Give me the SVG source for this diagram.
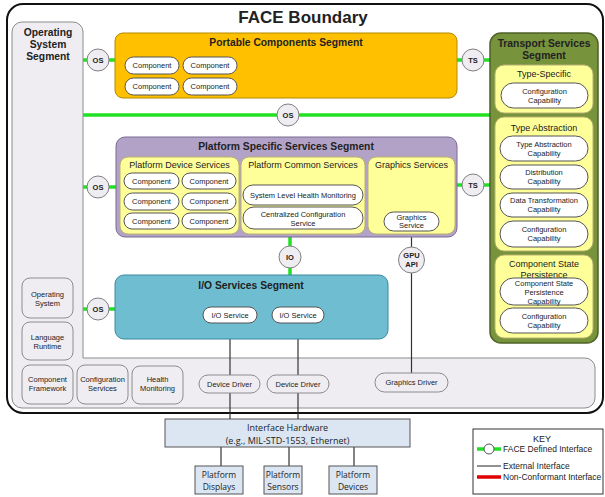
<svg xmlns="http://www.w3.org/2000/svg" width="605" height="497" viewBox="0 0 605 497">
<defs>
<style>
text{font-family:"Liberation Sans",Arial,sans-serif;fill:#222;text-anchor:middle}
.t{font-size:7.5px}
.sub{font-size:9px}
.seg{font-size:10.3px;font-weight:bold}
.pill{fill:#fff;stroke:#555;stroke-width:1}
.osb{fill:#efedf2;stroke:#8c8c8c;stroke-width:1}
.yel{fill:#ffff99;stroke:#b8b070;stroke-width:1}
.circ{fill:#efedf1;stroke:#808080;stroke-width:1}
.ct{font-size:7.5px;font-weight:bold}
.grn{stroke:#22e022;stroke-width:3.5;fill:none}
.ext{stroke:#333;stroke-width:1.2;fill:none}
.hw{fill:#dce6f2;stroke:#555;stroke-width:1}
.cal{font-family:"Open Sans","Liberation Sans",sans-serif}
</style>
</defs>
<rect x="0" y="0" width="605" height="497" fill="#fff"/>
<g id="face-boundary">
<rect x="7" y="4" width="596" height="409" rx="16" fill="#fff" stroke="#111" stroke-width="2"/>
<text x="303" y="23" style="font-size:17px;font-weight:bold">FACE Boundary</text>
</g>
<g id="os-segment">
<path class="osb" d="M22,22 H73 A10,10 0 0 1 83,32 V358 H585 A10,10 0 0 1 595,368 V398 A10,10 0 0 1 585,408 H22 A10,10 0 0 1 12,398 V32 A10,10 0 0 1 22,22 Z"/>
<text class="seg" x="48" y="36">Operating</text>
<text class="seg" x="48" y="48">System</text>
<text class="seg" x="48" y="60">Segment</text>
</g>
<g id="connectors">
<line class="grn" x1="83" y1="60" x2="115" y2="60"/>
<line class="grn" x1="457" y1="60" x2="491" y2="60"/>
<line class="grn" x1="83" y1="115" x2="491" y2="115"/>
<line class="grn" x1="83" y1="187" x2="116" y2="187"/>
<line class="grn" x1="457" y1="185" x2="491" y2="185"/>
<line class="grn" x1="290" y1="237" x2="290" y2="275"/>
<line class="grn" x1="83" y1="309" x2="115" y2="309"/>
<line class="ext" x1="411.5" y1="231" x2="411.5" y2="373"/>
<line class="ext" x1="230" y1="323" x2="230" y2="419"/>
<line class="ext" x1="298" y1="323" x2="298" y2="419"/>
<line class="ext" x1="221" y1="447" x2="221" y2="466"/>
<line class="ext" x1="289" y1="447" x2="289" y2="466"/>
<line class="ext" x1="354" y1="447" x2="354" y2="466"/>
</g>
<g id="os-operating-system"><rect class="osb" x="22" y="278" width="51" height="40" rx="8"/><text class="t" x="47.5" y="296.5">Operating</text><text class="t" x="47.5" y="305.5">System</text></g>
<g id="os-language-runtime"><rect class="osb" x="22" y="322" width="51" height="38" rx="8"/><text class="t" x="47.5" y="339.5">Language</text><text class="t" x="47.5" y="348.5">Runtime</text></g>
<g id="os-component-framework"><rect class="osb" x="22" y="365" width="51" height="39" rx="8"/><text class="t" x="47.5" y="381.5">Component</text><text class="t" x="47.5" y="390.5">Framework</text></g>
<g id="os-configuration-services"><rect class="osb" x="77" y="365" width="51" height="39" rx="8"/><text class="t" x="102.5" y="381.5">Configuration</text><text class="t" x="102.5" y="390.5">Services</text></g>
<g id="os-health-monitoring"><rect class="osb" x="132" y="366" width="51" height="38" rx="8"/><text class="t" x="157.5" y="382">Health</text><text class="t" x="157.5" y="391">Monitoring</text></g>
<g id="device-driver-1"><rect class="osb" x="199" y="375" width="61" height="18" rx="9"/><text class="t" x="229.5" y="386.7">Device Driver</text></g>
<g id="device-driver-2"><rect class="osb" x="267" y="375" width="62" height="18" rx="9"/><text class="t" x="298" y="386.7">Device Driver</text></g>
<g id="graphics-driver"><rect class="osb" x="375" y="373" width="73" height="19" rx="9.5"/><text class="t" x="411.5" y="385.2">Graphics Driver</text></g>

<g id="portable-components-segment">
<rect x="115" y="33" width="342" height="65" rx="8" fill="#ffc000" stroke="#b58a00" stroke-width="1"/>
<text class="seg" x="286" y="46">Portable Components Segment</text>
<rect class="pill" x="125" y="57" width="54" height="17" rx="8.5"/><text class="t" x="152" y="68.2">Component</text>
<rect class="pill" x="183" y="57" width="54" height="17" rx="8.5"/><text class="t" x="210" y="68.2">Component</text>
<rect class="pill" x="125" y="78" width="54" height="17" rx="8.5"/><text class="t" x="152" y="89.2">Component</text>
<rect class="pill" x="183" y="78" width="54" height="17" rx="8.5"/><text class="t" x="210" y="89.2">Component</text>
</g>

<g id="platform-specific-services-segment">
<rect x="116" y="137" width="341" height="100" rx="9" fill="#b3a2c7" stroke="#7a6a92" stroke-width="1"/>
<text class="seg" x="286" y="150">Platform Specific Services Segment</text>
</g>
<g id="platform-device-services">
<rect class="yel" x="120" y="157" width="119" height="77" rx="8"/>
<text class="sub" x="179.5" y="167.5">Platform Device Services</text>
<rect class="pill" x="124" y="173" width="55" height="16" rx="8"/><text class="t" x="151.5" y="183.7">Component</text>
<rect class="pill" x="182" y="173" width="54" height="16" rx="8"/><text class="t" x="209" y="183.7">Component</text>
<rect class="pill" x="124" y="193" width="55" height="17" rx="8.5"/><text class="t" x="151.5" y="204.2">Component</text>
<rect class="pill" x="182" y="193" width="54" height="17" rx="8.5"/><text class="t" x="209" y="204.2">Component</text>
<rect class="pill" x="124" y="213" width="55" height="16" rx="8"/><text class="t" x="151.5" y="223.7">Component</text>
<rect class="pill" x="182" y="213" width="54" height="16" rx="8"/><text class="t" x="209" y="223.7">Component</text>
</g>
<g id="platform-common-services">
<rect class="yel" x="241" y="157" width="124" height="77" rx="8"/>
<text class="sub" x="303" y="167.5">Platform Common Services</text>
<rect class="pill" x="243" y="185" width="120" height="20" rx="10"/><text class="t" x="303" y="197.7">System Level Health Monitoring</text>
<rect class="pill" x="243" y="207" width="120" height="22" rx="11"/><text class="t" x="303" y="216.5">Centralized Configuration</text><text class="t" x="303" y="225.5">Service</text>
</g>
<g id="graphics-services">
<rect class="yel" x="368" y="157" width="87" height="77" rx="8"/>
<text class="sub" x="411.5" y="167.5">Graphics Services</text>
<rect class="pill" x="384" y="212" width="55" height="19" rx="9.5"/><text class="t" x="411.5" y="219.5">Graphics</text><text class="t" x="411.5" y="228">Service</text>
</g>

<g id="io-services-segment">
<rect x="115" y="275" width="273" height="64" rx="9" fill="#6fbdd1" stroke="#3a8aa0" stroke-width="1"/>
<text class="seg" x="251" y="289">I/O Services Segment</text>
<rect class="pill" x="203" y="307" width="54" height="16" rx="8"/><text class="t" x="230" y="317.7">I/O Service</text>
<rect class="pill" x="272" y="307" width="52" height="16" rx="8"/><text class="t" x="298" y="317.7">I/O Service</text>
</g>

<g id="transport-services-segment">
<rect x="490" y="33" width="108" height="310" rx="11" fill="#77933c" stroke="#4f6228" stroke-width="1.5"/>
<text class="seg" x="544" y="47">Transport Services</text>
<text class="seg" x="544" y="59">Segment</text>
</g>
<g id="type-specific">
<rect class="yel" x="495" y="65" width="98" height="48" rx="9"/>
<text class="sub" x="544" y="76.5">Type-Specific</text>
<rect class="pill" x="501" y="83" width="87" height="25" rx="12.5"/><text class="t" x="544.5" y="93.5">Configuration</text><text class="t" x="544.5" y="102.5">Capability</text>
</g>
<g id="type-abstraction">
<rect class="yel" x="495" y="117" width="98" height="134" rx="9"/>
<text class="sub" x="544" y="130.5">Type Abstraction</text>
<rect class="pill" x="500" y="136" width="88" height="25" rx="12.5"/><text class="t" x="544" y="146.7">Type Abstraction</text><text class="t" x="544" y="155.7">Capability</text>
<rect class="pill" x="500" y="165" width="88" height="24" rx="12"/><text class="t" x="544" y="175.2">Distribution</text><text class="t" x="544" y="184.2">Capability</text>
<rect class="pill" x="500" y="193" width="88" height="24" rx="12"/><text class="t" x="544" y="203.2">Data Transformation</text><text class="t" x="544" y="212.2">Capability</text>
<rect class="pill" x="500" y="221" width="88" height="26" rx="13"/><text class="t" x="544" y="232.2">Configuration</text><text class="t" x="544" y="241.2">Capability</text>
</g>
<g id="component-state-persistence">
<rect class="yel" x="495" y="255" width="98" height="83" rx="9"/>
<text class="sub" x="544" y="267">Component State</text>
<text class="sub" x="544" y="277.5">Persistence</text>
<rect class="pill" x="500" y="278" width="88" height="27" rx="13.5"/><text class="t" x="544" y="285.7">Component State</text><text class="t" x="544" y="294.7">Persistence</text><text class="t" x="544" y="303.7">Capability</text>
<rect class="pill" x="500" y="308" width="88" height="25" rx="12.5"/><text class="t" x="544" y="318.7">Configuration</text><text class="t" x="544" y="327.7">Capability</text>
</g>

<g id="if-os-portable"><circle class="circ" cx="98" cy="60" r="11"/><text class="ct" x="98" y="62.7">OS</text></g>
<g id="if-ts-portable"><circle class="circ" cx="473" cy="60" r="11"/><text class="ct" x="473" y="62.7">TS</text></g>
<g id="if-os-transport"><circle class="circ" cx="288" cy="115" r="11"/><text class="ct" x="288" y="117.7">OS</text></g>
<g id="if-os-pss"><circle class="circ" cx="98" cy="187" r="11"/><text class="ct" x="98" y="189.7">OS</text></g>
<g id="if-ts-pss"><circle class="circ" cx="473" cy="185" r="11"/><text class="ct" x="473" y="187.7">TS</text></g>
<g id="if-io"><circle class="circ" cx="290" cy="257" r="11"/><text class="ct" x="290" y="259.7">IO</text></g>
<g id="if-gpu-api"><circle class="circ" cx="411.5" cy="260" r="13"/><text class="ct" x="411.5" y="258">GPU</text><text class="ct" x="411.5" y="267">API</text></g>
<g id="if-os-io"><circle class="circ" cx="98" cy="309" r="11"/><text class="ct" x="98" y="311.7">OS</text></g>

<g id="interface-hardware">
<rect class="hw" x="165" y="419" width="245" height="28"/>
<text class="cal" x="287.5" y="430.5" style="font-size:9px">Interface Hardware</text>
<text class="cal" x="287.5" y="443.5" style="font-size:9px">(e.g., MIL-STD-1553, Ethernet)</text>
</g>
<g id="platform-displays"><rect class="hw" x="195" y="466" width="48" height="28"/><text class="cal" x="219" y="478" style="font-size:8.5px">Platform</text><text class="cal" x="219" y="490" style="font-size:8.5px">Displays</text></g>
<g id="platform-sensors"><rect class="hw" x="264" y="466" width="38" height="28"/><text class="cal" x="283" y="478" style="font-size:8.5px">Platform</text><text class="cal" x="283" y="490" style="font-size:8.5px">Sensors</text></g>
<g id="platform-devices"><rect class="hw" x="329" y="466" width="48" height="28"/><text class="cal" x="353" y="478" style="font-size:8.5px">Platform</text><text class="cal" x="353" y="490" style="font-size:8.5px">Devices</text></g>

<g id="key">
<rect x="473" y="429" width="130" height="65" fill="#fff" stroke="#333" stroke-width="1"/>
<text x="542" y="442" style="font-size:9px">KEY</text>
<line class="grn" x1="477" y1="449" x2="501" y2="449"/>
<circle cx="489" cy="449" r="5" fill="#fff" stroke="#555" stroke-width="1"/>
<text x="503" y="452" style="font-size:8.5px;text-anchor:start">FACE Defined Interface</text>
<line x1="477" y1="466" x2="501" y2="466" stroke="#222" stroke-width="1"/>
<text x="503" y="469" style="font-size:8.5px;text-anchor:start">External Interface</text>
<line x1="477" y1="477" x2="501" y2="477" stroke="#e00000" stroke-width="3.5"/>
<text x="503" y="480" style="font-size:8.5px;text-anchor:start">Non-Conformant Interface</text>
</g>
</svg>
